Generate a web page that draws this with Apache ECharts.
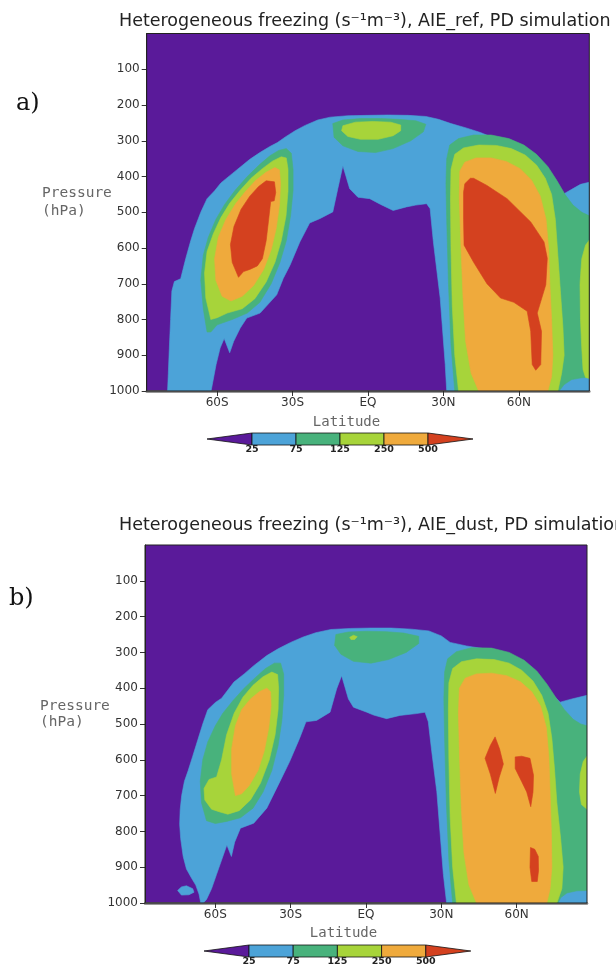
<!DOCTYPE html>
<html><head><meta charset="utf-8">
<script src="https://cdn.jsdelivr.net/npm/echarts@6/dist/echarts.min.js"></script>
<style>html,body{margin:0;padding:0;background:#fff}#c{width:616px;height:967px}</style>
</head><body><div id="c"></div>
<script>
// ---- axes ----
const latTicks = [-60, -30, 0, 30, 60];
const latTickLabels = ['60S', '30S', 'EQ', '30N', '60N'];
const pressureTicks = [100, 200, 300, 400, 500, 600, 700, 800, 900, 1000];
const levels = [25, 75, 125, 250, 500];
const levelColors = ['#5a1a9a', '#4ca3d8', '#48b27c', '#a7d43a', '#efaa3c', '#d4411f'];
const titles = ['Heterogeneous freezing (s\u207B\u00B9m\u207B\u00B3), AIE_ref, PD simulation',
                'Heterogeneous freezing (s\u207B\u00B9m\u207B\u00B3), AIE_dust, PD simulation'];
const panelLabels = ['a)', 'b)'];

// ---- contour polygons, vertices as [latitude, pressure hPa] ----
// Panel a (AIE_ref)
const A_ge25 = [[
  [-79.7,1000],[-79.4,950],[-79,880],[-78.5,800],[-78,720],[-77,694],[-74.5,686],[-72.5,630],[-70.5,580],[-69,546],[-66.5,500],[-64,462],[-61,440],[-58.5,418],[-54,392],[-50.5,372],[-47,352],[-43,333],[-39,316],[-36,305],[-33,290],[-29,272],[-25,257],[-20,242],[-15,234],[-8,230],[0,229],[8,228],[16,229],[23,232],[28,240],[33,252],[39,264],[44.7,277],[50,292],[56,312],[62,338],[66,358],[69.5,378],[72,400],[74,426],[76.5,442],[78,448],[81,436],[84.5,422],[88,416],
  [88,1000],[31.3,1000],
  [30.7,926],[28.7,740],[26,583],[24.7,490],[23.3,476],[19,480],[15.3,485],[10,495],[5,478],[0.7,462],[-4,458],[-7.3,434],[-10,370],[-12,434],[-14,499],[-19.2,518],[-23.2,530],[-27.1,583],[-31,648],[-33.7,685],[-36.3,731],[-42.9,782],[-48.2,796],[-50.8,824],[-53.4,861],[-55,893],[-57.2,853],[-58.8,880],[-60.4,926],[-62.4,1000]
]];
const A_ge75 = [
  [[-64,835],[-65.5,770],[-66.5,690],[-65.5,620],[-63.5,570],[-60.5,520],[-57,478],[-53,440],[-48,400],[-43,366],[-39,342],[-35.5,327],[-32.5,322],[-30.5,335],[-29.8,380],[-29.8,440],[-30.8,510],[-32.5,580],[-35,640],[-38.5,700],[-43,752],[-48,782],[-54,800],[-60,815],[-62.5,835]],
  [[-14,252],[-10,242],[-3,238],[5,238],[12,240],[19,244],[23,254],[22,275],[17,300],[10,322],[3,333],[-4,330],[-10,314],[-13.5,290]],
  [[34.5,1000],[33,870],[32,700],[31.3,520],[31,420],[31.3,350],[32.5,312],[36,294],[42,284],[49,284],[56,294],[62,312],[67,338],[71.5,372],[75,410],[78.5,452],[81.5,480],[85,500],[88,510],[88,962],[85,963],[81,968],[78,982],[76,1000]]
];
const A_ge125 = [
  [[-62.5,800],[-64.5,740],[-65,670],[-64,610],[-61.5,560],[-58.5,515],[-55,475],[-51,440],[-46.5,405],[-42,378],[-38,357],[-34.5,345],[-32.5,348],[-31.8,380],[-31.8,440],[-32.6,510],[-34.5,580],[-37,640],[-40.5,695],[-45,742],[-50,770],[-56,782],[-60,795]],
  [[-10,258],[-5,248],[2,246],[9,248],[13,256],[13,272],[10,286],[4,296],[-3,296],[-8,288],[-10.5,272]],
  [[36,1000],[34.5,900],[33.5,760],[33,600],[32.8,460],[33,380],[34.5,338],[38,320],[44,312],[51,313],[57,322],[62.5,340],[67,368],[70.5,405],[73,450],[74.5,520],[75.5,620],[76.5,720],[77.5,820],[78,900],[77,950],[75.5,1000]],
  [[88,578],[86.5,592],[85,630],[84.3,700],[84.5,800],[85,880],[85.5,940],[86.5,962],[88,965]]
];
const A_ge250 = [
  [[-58,735],[-60.5,690],[-61,630],[-59.5,570],[-56.5,520],[-52.5,475],[-48.5,440],[-44.5,410],[-40.5,388],[-37,375],[-35.2,382],[-34.8,420],[-35.2,480],[-36.5,545],[-38.5,605],[-41.5,660],[-45.5,705],[-50,735],[-54.5,748]],
  [[44,1000],[41,950],[38.8,860],[37.8,740],[37,600],[36.3,460],[36.5,385],[38.5,360],[43,348],[49,348],[55,358],[60.5,378],[65,410],[68.5,455],[70.8,520],[71.8,600],[72.3,700],[73,800],[73.5,900],[73,960],[71.5,1000]]
];
const A_ge500 = [
  [[-51.5,682],[-54,640],[-54.7,590],[-53.3,540],[-50.5,492],[-47,455],[-43.5,428],[-40.5,412],[-37.2,415],[-36.7,445],[-37.3,468],[-38.7,470],[-39.5,520],[-40.5,580],[-42,630],[-44,650],[-47,660],[-49.5,666]],
  [[40.7,405],[38.5,420],[38,444],[38,520],[38.2,592],[42,640],[47.3,700],[52.7,740],[58,752],[63.3,777],[64.7,833],[65.3,926],[66.7,942],[68.7,926],[69,833],[67.3,782],[70.7,703],[71.3,629],[70,583],[64.7,527],[55.3,462],[47.3,425],[42,405]]
];
// Panel b (AIE_dust)
const B_ge25 = [
  [[-65.8,1000],[-66.5,975],[-67.8,950],[-69.5,930],[-71.5,905],[-72.8,870],[-73.8,820],[-74.2,780],[-74,740],[-73.4,700],[-72.3,660],[-70.8,630],[-69,590],[-67,545],[-65,500],[-63,460],[-60,440],[-57.5,428],[-55,405],[-52.6,383],[-48.5,360],[-44.7,337],[-39.5,309],[-35,290],[-30,272],[-25,257],[-20,245],[-14,236],[-6,233],[2,232],[10,232],[18,235],[25,240],[30,254],[33.5,272],[40,282],[48,291],[56,315],[62,340],[66.7,365],[71,395],[74.5,420],[77.3,439],[82,430],[88,420],
   [88,1000],[32.1,1000],
   [30.8,920],[28.2,689],[26.2,578],[24.8,494],[23.5,467],[20,471],[13.5,476],[8.2,485],[3,475],[0.3,467],[-5,453],[-7,430],[-9.7,365],[-11.7,402],[-14.3,467],[-19.7,490],[-23.9,494],[-26.5,541],[-30.4,605],[-34.3,661],[-39.5,735],[-44.7,777],[-50,791],[-52.3,830],[-53.6,870],[-55.4,838],[-57.5,880],[-59.5,920],[-61.5,960],[-63.5,990],[-64.8,1000]],
  [[-75,965],[-73.5,955],[-71.5,952],[-69,960],[-68.5,970],[-70.5,977],[-73.5,978]]
];
const B_ge75 = [
  [[-63.5,770],[-65.5,720],[-66,660],[-65,600],[-63,550],[-60,505],[-57,470],[-53,435],[-48.5,400],[-44,370],[-40,345],[-36.5,330],[-34,330],[-32.8,360],[-32.8,420],[-33.5,490],[-35,560],[-37.5,630],[-41,690],[-45,735],[-50,762],[-55.5,772],[-60,778]],
  [[-12,250],[-7,243],[0,241],[8,242],[15,246],[21,255],[21,275],[16,300],[9,320],[2,330],[-5,325],[-10,305],[-12.5,280]],
  [[34.5,1000],[33,880],[32,720],[31.3,540],[31,430],[31.3,355],[32.5,318],[36,298],[42,287],[50,288],[57,300],[63,322],[68,352],[72,388],[75.5,425],[79,460],[82.5,487],[85.5,500],[88,505],[88,965],[84,966],[80,972],[77.5,985],[76.5,1000]]
];
const B_ge125 = [
  [[-61.5,738],[-64.2,712],[-64.5,680],[-62.5,655],[-59.5,648],[-57.5,600],[-55.5,530],[-52.5,470],[-49,425],[-45,392],[-41,368],[-37.5,355],[-35.2,362],[-34.8,400],[-35,460],[-36.2,530],[-38.5,600],[-42,665],[-46,712],[-50.5,742],[-55,752],[-58.5,745]],
  [[-6.5,258],[-5,252],[-3.5,256],[-4.5,264],[-6,264]],
  [[36,1000],[34.5,900],[33.5,760],[33,600],[32.8,460],[33,385],[34.5,345],[38,326],[44,318],[51,320],[57,330],[62,350],[66.5,380],[70,420],[72.5,470],[74,540],[75,620],[76,720],[77.5,820],[78.5,900],[78,960],[76,1000]],
  [[88,590],[86.5,605],[85.3,640],[85,690],[85.8,725],[88,738]]
];
const B_ge250 = [
  [[-52,700],[-53.5,640],[-53.5,570],[-52,505],[-49.5,460],[-46,430],[-42.5,410],[-39.5,400],[-38,410],[-37.8,450],[-38.7,510],[-40.5,575],[-43,630],[-46.5,672],[-49.5,695]],
  [[44,1000],[41,950],[39,860],[38,740],[37.3,600],[36.8,470],[37.2,400],[39.5,372],[44,360],[50,358],[56,365],[61.5,382],[66,410],[69.5,450],[71.8,510],[72.8,590],[73.3,690],[73.8,800],[74,900],[73.3,960],[72,1000]]
];
const B_ge500 = [
  [[51.4,536],[53.2,570],[54.7,612],[53,650],[51.5,694],[49.5,640],[47.4,596],[49.5,560]],
  [[59.4,592],[62,590],[65.3,596],[66.7,643],[66.5,690],[65.6,731],[64,690],[62,661],[59.4,624]],
  [[65.5,845],[67.2,850],[68.6,870],[68.7,910],[68.2,940],[66,940],[65.3,900]]
];
const panelsData = [[A_ge25, A_ge75, A_ge125, A_ge250, A_ge500], [B_ge25, B_ge75, B_ge125, B_ge250, B_ge500]];

// ---- layout (pixels) ----
const grids = [
  {left: 146.7, top: 33.5, width: 442.6, height: 357.5},
  {left: 145, top: 545, width: 442, height: 358}
];
const FONT = 'DejaVu Sans';
const LABFONT = 'DejaVu Sans Mono';

const chart = echarts.init(document.getElementById('c'), null, {renderer: 'canvas'});

const xAxes = [], yAxes = [], series = [], graphics = [], titleOpts = [];
grids.forEach((g, k) => {
  xAxes.push({
    gridIndex: k, type: 'value', min: -88, max: 88,
    axisLine: {show: true, onZero: false, lineStyle: {color: '#777', width: 2.5}},
    axisTick: {show: true, customValues: latTicks, length: 5, lineStyle: {color: '#333'}},
    axisLabel: {customValues: latTicks, formatter: v => latTickLabels[latTicks.indexOf(v)],
      fontFamily: FONT, fontSize: 12, color: '#333', margin: 6},
    splitLine: {show: false}
  });
  yAxes.push({
    gridIndex: k, type: 'value', inverse: true, min: 0, max: 1000, interval: 100,
    axisLine: {show: true, onZero: false, lineStyle: {color: '#222', width: 1}},
    axisTick: {show: true, length: 5, lineStyle: {color: '#333'}},
    axisLabel: {showMinLabel: false, fontFamily: FONT, fontSize: 12, color: '#333', margin: 7,
      formatter: v => pressureTicks.indexOf(v) >= 0 ? String(v) : ''},
    splitLine: {show: false}
  });
  panelsData[k].forEach((polys, i) => {
    const color = levelColors[i + 1];
    series.push({
      type: 'custom', xAxisIndex: k, yAxisIndex: k, clip: true, z: 2 + i, silent: true,
      data: polys.map(pg => [pg[0][0], pg[0][1]]),
      encode: {x: 0, y: 1},
      renderItem: (params, api) => ({
        type: 'polygon',
        shape: {points: polys[params.dataIndex].map(pt => api.coord(pt))},
        style: {fill: color, stroke: color, lineWidth: 0.6}
      })
    });
  });
  // frame
  graphics.push({type: 'rect', z: 100, silent: true,
    shape: {x: g.left, y: g.top, width: g.width, height: g.height},
    style: {fill: null, stroke: '#222', lineWidth: 1}});
  // colorbar
  const cbY = k === 0 ? 439 : 951;
  const cbX0 = k === 0 ? 252 : 249;
  const segW = k === 0 ? 44 : 44.2;
  const triW = 45, cbH = 12;
  graphics.push({type: 'polygon', z: 100, shape: {points: [[cbX0 - triW, cbY], [cbX0, cbY - cbH / 2], [cbX0, cbY + cbH / 2]]},
    style: {fill: levelColors[0], stroke: '#111', lineWidth: 0.8}});
  for (let i = 0; i < levels.length - 1; i++) {
    graphics.push({type: 'rect', z: 100, shape: {x: cbX0 + i * segW, y: cbY - cbH / 2, width: segW, height: cbH},
      style: {fill: levelColors[i + 1], stroke: '#111', lineWidth: 0.8}});
  }
  const xr = cbX0 + (levels.length - 1) * segW;
  graphics.push({type: 'polygon', z: 100, shape: {points: [[xr, cbY - cbH / 2], [xr + triW, cbY], [xr, cbY + cbH / 2]]},
    style: {fill: levelColors[levels.length], stroke: '#111', lineWidth: 0.8}});
  levels.forEach((lv, i) => {
    graphics.push({type: 'text', z: 100, x: cbX0 + i * segW, y: cbY + 11,
      style: {text: String(lv), fontFamily: FONT, fontSize: 9.5, fontWeight: 'bold', fill: '#222', align: 'center', verticalAlign: 'middle'}});
  });
  // axis titles
  graphics.push({type: 'text', z: 100, x: k === 0 ? 346.5 : 343.5, y: k === 0 ? 422 : 933,
    style: {text: 'Latitude', fontFamily: LABFONT, fontSize: 14, fill: '#666', align: 'center', verticalAlign: 'middle'}});
  graphics.push({type: 'text', z: 100, x: k === 0 ? 42 : 40, y: k === 0 ? 193 : 706,
    style: {text: 'Pressure', fontFamily: LABFONT, fontSize: 14.5, fill: '#666', align: 'left', verticalAlign: 'middle'}});
  graphics.push({type: 'text', z: 100, x: k === 0 ? 42 : 40, y: k === 0 ? 211 : 722,
    style: {text: '(hPa)', fontFamily: LABFONT, fontSize: 14.5, fill: '#666', align: 'left', verticalAlign: 'middle'}});
  graphics.push({type: 'text', z: 100, x: k === 0 ? 16 : 9, y: k === 0 ? 104 : 599,
    style: {text: panelLabels[k], fontFamily: 'DejaVu Serif', fontSize: 24, fill: '#111', align: 'left', verticalAlign: 'middle'}});
  titleOpts.push({text: titles[k], left: 114, top: k === 0 ? 7 : 511,
    textStyle: {fontFamily: FONT, fontSize: 17.5, fontWeight: 'normal', color: '#222'}});
});

chart.setOption({
  animation: false,
  backgroundColor: '#fff',
  title: titleOpts,
  grid: grids.map(g => Object.assign({show: true, backgroundColor: levelColors[0], borderWidth: 0, containLabel: false}, g)),
  xAxis: xAxes,
  yAxis: yAxes,
  series: series,
  graphic: graphics
});
</script></body></html>
